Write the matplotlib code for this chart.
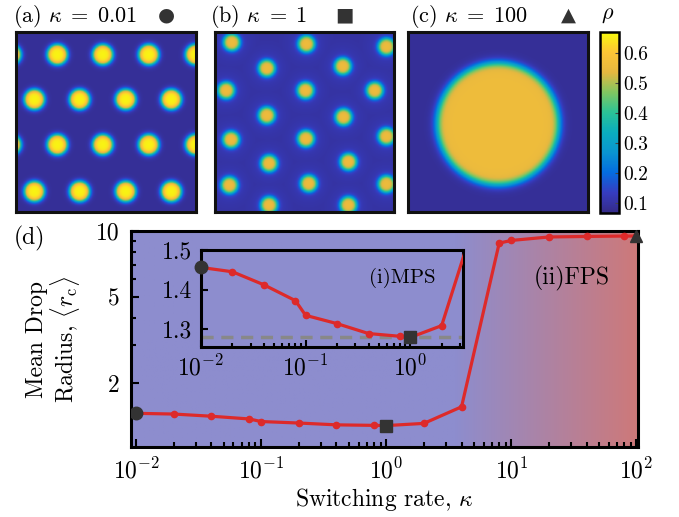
import numpy as np
import matplotlib
matplotlib.use("Agg")
import matplotlib.pyplot as plt
from matplotlib.colors import LinearSegmentedColormap
from matplotlib.ticker import NullFormatter, FixedLocator

plt.rcParams["font.family"] = ["cmr10", "DejaVu Sans"]
plt.rcParams["mathtext.fontset"] = "cm"
plt.rcParams["axes.formatter.use_mathtext"] = True

# ---- data ----
kappa = [0.01, 0.02, 0.04, 0.08, 0.1, 0.2, 0.4, 0.8, 1, 2, 4, 8, 10, 20, 40, 80, 100]
radius = [1.456, 1.445, 1.412, 1.372, 1.335, 1.314, 1.289, 1.282, 1.279, 1.309,
          1.56, 8.8, 9.05, 9.39, 9.44, 9.48, 9.48]
r_ref = 1.28  # dashed reference line in the inset

panel_titles = [r"(a) $\kappa\;=\;0.01$", r"(b) $\kappa\;=\;1$", r"(c) $\kappa\;=\;100$"]
panel_marks = ["\u25cf", "\u25a0", "\u25b2"]

# droplet centres (fraction of box, x from left, y from top)
drops_a_rows = [0.124, 0.374, 0.626, 0.887]
drops_a_odd = [-0.03, 0.229, 0.482, 0.738, 1.0]
drops_a_even = [0.101, 0.353, 0.610, 0.864]
drops_b = [(0.092, 0.056), (0.508, 0.065), (0.954, 0.080),
           (0.287, 0.200), (0.711, 0.189),
           (0.061, 0.324), (0.503, 0.324), (0.889, 0.324),
           (0.287, 0.463), (0.715, 0.472),
           (0.088, 0.598), (0.505, 0.593), (0.954, 0.580),
           (0.300, 0.731), (0.742, 0.722),
           (0.079, 0.852), (0.521, 0.843), (0.954, 0.846),
           (0.300, 0.963), (0.742, 0.963)]
drop_c = [(0.50, 0.51)]

rho_min, rho_max = 0.066, 0.67

parula = LinearSegmentedColormap.from_list("parula", [
    (0.2081, 0.1663, 0.5292), (0.2116, 0.2379, 0.7574), (0.0165, 0.4266, 0.8786),
    (0.0383, 0.5834, 0.8197), (0.0383, 0.6755, 0.7469), (0.1664, 0.7616, 0.5889),
    (0.5029, 0.7735, 0.3816), (0.90, 0.72, 0.25), (0.99, 0.77, 0.21),
    (0.9763, 0.9831, 0.0538)])


def density(centers, R, w, inside, outside, halo=0.0, sig=0.1, n=300):
    y, x = np.mgrid[0:1:n * 1j, 0:1:n * 1j]
    core = np.zeros_like(x)
    glow = np.zeros_like(x)
    for cx, cy in centers:
        r = np.hypot(x - cx, y - cy)
        core = np.maximum(core, 0.5 * (1 - np.tanh((r - R) / w)))
        glow = np.maximum(glow, np.exp(-(r / sig) ** 2))
    return outside + halo * glow * (1 - core) + (inside - outside) * core


centers_a = []
for i, yy in enumerate(drops_a_rows):
    for xx in (drops_a_odd if i % 2 == 0 else drops_a_even):
        centers_a.append((xx, yy))

fields = [density(centers_a, 0.055, 0.016, 0.66, 0.085),
          density(drops_b, 0.045, 0.015, 0.56, 0.095, halo=0.028, sig=0.11),
          density(drop_c, 0.34, 0.028, 0.56, 0.085)]

fig = plt.figure(figsize=(6.79, 5.17), dpi=100)

W, H = 679, 517
def rect(x0, y0, x1, y1):
    return [x0 / W, 1 - y1 / H, (x1 - x0) / W, (y1 - y0) / H]

panel_x = [(15, 197), (214, 395), (407, 589)]
title_x = [13, 210, 410]
mark_x = [166, 344, 568]
for k in range(3):
    ax = fig.add_axes(rect(panel_x[k][0], 32, panel_x[k][1], 212))
    im = ax.imshow(fields[k], cmap=parula, vmin=rho_min, vmax=rho_max,
                   extent=(0, 1, 1, 0), interpolation="bilinear")
    ax.set_xticks([])
    ax.set_yticks([])
    for s in ax.spines.values():
        s.set_linewidth(2.2)
        s.set_color("#111111")
    fig.text(title_x[k] / W, 1 - 16 / H, panel_titles[k],
             ha="left", va="center", fontsize=16)
    fig.text(mark_x[k] / W, 1 - 15 / H, panel_marks[k], family="DejaVu Sans",
             ha="center", va="center", fontsize=14, color="#333333")

cax = fig.add_axes(rect(600, 32, 619, 213))
cb = fig.colorbar(im, cax=cax, ticks=[0.1, 0.2, 0.3, 0.4, 0.5, 0.6])
cb.ax.set_yticklabels(["0.1", "0.2", "0.3", "0.4", "0.5", "0.6"])
cb.ax.tick_params(direction="in", length=3, width=0.8, color="#444444",
                  labelsize=14, pad=3)
cb.outline.set_linewidth(1.8)
fig.text(608 / W, 1 - 15 / H, r"$\rho$", ha="center", va="center", fontsize=16)

# ---- bottom panel ----
xlim = (0.0091, 103)
main_rect = rect(131, 231, 638, 447)

bg = fig.add_axes(main_rect, zorder=0)
lx = np.linspace(np.log10(xlim[0]), np.log10(xlim[1]), 400)
t = np.clip((lx - 0.55) / (2.0 - 0.55), 0, 1)
c0 = np.array([141, 141, 206]) / 255
c1 = np.array([205, 121, 122]) / 255
grad = (c0[None, :] * (1 - t[:, None]) + c1[None, :] * t[:, None])[None, :, :]
bg.imshow(grad, aspect="auto", extent=(lx[0], lx[-1], 0, 1))
bg.axis("off")

ax = fig.add_axes(main_rect, zorder=1)
ax.patch.set_alpha(0)
ax.set_xscale("log")
ax.set_yscale("log")
ax.plot(kappa, radius, "-o", color="#dd2a2a", lw=2.3, ms=4.5, zorder=3)
ax.plot(kappa[0], radius[0], "o", color="#333333", ms=9, zorder=4)
ax.plot(kappa[8], radius[8], "s", color="#333333", ms=9, zorder=4)
ax.plot(kappa[-1], radius[-1], "^", color="#333333", ms=9, zorder=4, clip_on=False)
ax.set_xlim(xlim)
ax.set_ylim(1.02, 10)
ax.set_yticks([2, 5, 10])
ax.set_yticklabels(["2", "5", "10"])
ax.yaxis.set_minor_locator(FixedLocator([3, 4, 6, 7, 8, 9]))
ax.yaxis.set_minor_formatter(NullFormatter())
ax.tick_params(which="both", direction="in", width=1.5, labelsize=17)
ax.tick_params(which="major", length=6, pad=8)
ax.tick_params(which="minor", length=3.5)
for s in ax.spines.values():
    s.set_linewidth(2.2)
ax.set_xlabel(r"Switching rate, $\kappa$", fontsize=17, labelpad=2)
ax.set_ylabel("Mean Drop\n" + r"Radius, $\langle r_{\rm c}\rangle$", fontsize=17,
              labelpad=10, linespacing=1.0)
ax.text(0.869, 0.78, "(ii)FPS", transform=ax.transAxes, ha="center", va="center",
        fontsize=17)
fig.text(29 / W, 1 - 238 / H, "(d)", ha="center", va="center", fontsize=17)

# ---- inset ----
ins = fig.add_axes(rect(201, 250, 463, 347), zorder=2)
ins.set_facecolor("#8d8dce")
ins.set_xscale("log")
ins.axhline(r_ref, color="#888888", lw=2.5, ls=(0, (3.5, 2.2)), zorder=1)
ins.plot(kappa, radius, "-o", color="#dd2a2a", lw=2.3, ms=4.5, zorder=3)
ins.plot(kappa[0], radius[0], "o", color="#333333", ms=9, zorder=4, clip_on=False)
ins.plot(kappa[8], radius[8], "s", color="#333333", ms=9, zorder=4)
ins.set_xlim(0.01, 3.2)
ins.set_ylim(1.255, 1.5)
ins.set_yticks([1.3, 1.4, 1.5])
ins.set_yticklabels(["1.3", "1.4", "1.5"])
ins.tick_params(which="both", direction="in", width=1.5, labelsize=17)
ins.tick_params(which="major", length=5, pad=6)
ins.tick_params(which="minor", length=3)
for s in ins.spines.values():
    s.set_linewidth(2.2)
ins.text(0.767, 0.712, "(i)MPS", transform=ins.transAxes, ha="center", va="center",
         fontsize=15)

fig.savefig("out.png", dpi=100)
